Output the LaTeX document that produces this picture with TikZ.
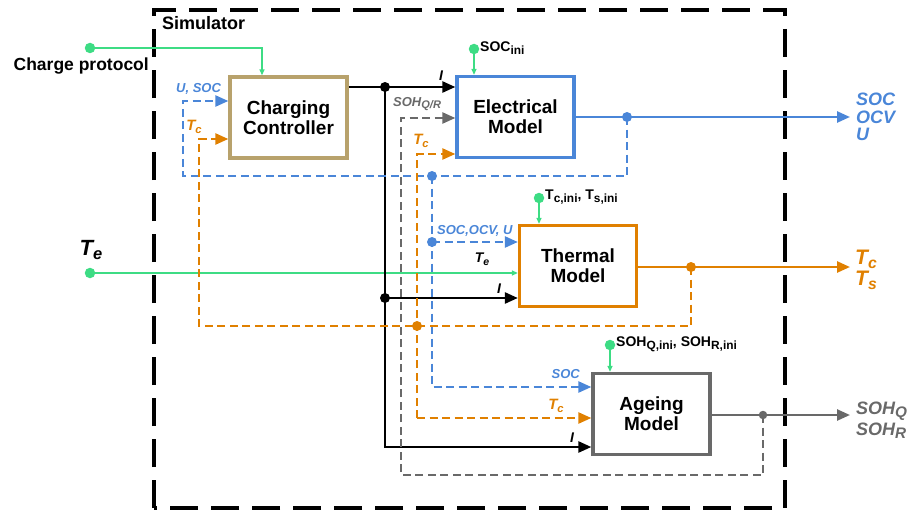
\documentclass[tikz,border=0pt]{standalone}
\usepackage{fontspec}
\setmainfont{Liberation Sans}
\usetikzlibrary{arrows.meta}
\definecolor{cblue}{RGB}{74,134,216}
\definecolor{corange}{RGB}{224,128,0}
\definecolor{cgray}{RGB}{105,105,105}
\definecolor{ctan}{RGB}{184,162,108}
\definecolor{cgreen}{RGB}{61,220,132}
\newcommand{\lowsub}[1]{\raisebox{-0.35ex}{\scalebox{0.85}{#1}}}
\newcommand{\smsub}[1]{\raisebox{-0.4ex}{\scalebox{0.75}{#1}}}
\begin{document}
\begin{tikzpicture}[x=1pt,y=-1pt,
  model/.style={draw,line width=3.3pt,fill=white,inner sep=0pt,minimum width=117pt,minimum height=81pt,align=center,font=\fontsize{19}{20}\selectfont\bfseries},
  sig/.style={line width=2.5pt},
  dsig/.style={line width=2.4pt,dash pattern=on 8pt off 4.5pt},
  tip/.style={-{Triangle[length=13pt,width=11pt]}},
  gtip/.style={cgreen,line width=1.3pt,-{Triangle[length=6pt,width=5pt]}},
  lab/.style={inner sep=0pt,font=\fontsize{13}{14}\selectfont\bfseries\itshape},
  ilab/.style={inner sep=0pt,font=\fontsize{14}{15}\selectfont\bfseries},
  outlab/.style={inner sep=0pt,anchor=west,align=left,font=\fontsize{18}{17.5}\selectfont\bfseries\itshape},
  dot/.style={circle,fill,inner sep=0pt,minimum size=10pt},
  gdot/.style={circle,fill=cgreen,inner sep=0pt,minimum size=10.5pt}
]
\useasboundingbox (0,0) rectangle (917,511);
% Simulator frame
\draw[line width=3.5pt,dash pattern=on 28pt off 13pt] (154,508) -- (154,10) -- (785,10) -- (785,508) -- cycle;
\node[anchor=west,inner sep=0pt,font=\fontsize{18}{18}\selectfont\bfseries] (simlab) at (162,23) {Simulator};

% Models
\node[model,draw=ctan] (cc) at (288.5,117.5) {Charging\\Controller};
\node[model,draw=cblue] (el) at (515.5,117) {Electrical\\Model};
\node[model,draw=corange] (th) at (578,266) {Thermal\\Model};
\node[model,draw=cgray] (ag) at (651.5,414) {Ageing\\Model};

% Green inputs
\node[gdot] (cp) at (90,48) {};
\node[anchor=east,inner sep=0pt,font=\fontsize{17.5}{18}\selectfont\bfseries] (cplab) at (149,66) {Charge protocol};
\coordinate (cpc) at (262,48);
\draw[gtip] (cp) -- (cpc) -- (cpc |- cc.north);

\node[gdot] (socini) at (474,49) {};
\node[ilab,anchor=west] (sociniL) at (480,48) {SOC\lowsub{ini}};
\draw[gtip] (socini) -- (socini |- el.north);

\node[gdot] (tini) at (539,198) {};
\node[ilab,anchor=west] (tiniL) at (545,197) {T\lowsub{c,ini}, T\lowsub{s,ini}};
\draw[gtip] (tini) -- (tini |- th.north);

\node[gdot] (sohini) at (610,345) {};
\node[ilab,anchor=west] (sohiniL) at (616,344) {SOH\lowsub{Q,ini}, SOH\lowsub{R,ini}};
\draw[gtip] (sohini) -- (sohini |- ag.north);

\node[gdot] (te) at (90,273) {};
\node[inner sep=0pt,font=\fontsize{22}{22}\selectfont\bfseries\itshape] (teL) at (91,250) {T\smsub{e}};
\draw[gtip] (te) -- (th.west |- te);
\node[lab,font=\fontsize{14}{14}\selectfont\bfseries\itshape] (teL2) at (482,259) {T\smsub{e}};

% Current I (black)
\coordinate (jI) at (385,87);
\coordinate (jT) at (385,298);
\coordinate (jA) at (385,447);
\draw[sig] (cc.east |- jI) -- (jI);
\draw[sig,tip] (jI) -- (el.west |- jI);
\draw[sig,tip] (jI) -- (jA) -- (ag.west |- jA);
\draw[sig,tip] (jT) -- (th.west |- jT);
\node[dot] (dI1) at (jI) {};
\node[dot] (dI2) at (jT) {};
\node[lab,font=\fontsize{14}{14}\selectfont\bfseries\itshape] (il1) at (441,76) {I};
\node[lab,font=\fontsize{14}{14}\selectfont\bfseries\itshape] (il2) at (499,289) {I};
\node[lab,font=\fontsize{14}{14}\selectfont\bfseries\itshape] (il3) at (572,438) {I};

% Electrical output (blue)
\coordinate (eo) at (850,117);
\coordinate (bD) at (627,117);
\coordinate (bR) at (627,176);
\coordinate (bL) at (183,176);
\coordinate (bU) at (183,101);
\coordinate (bJ) at (432,176);
\coordinate (bT) at (432,242);
\coordinate (bA) at (432,387);
\draw[cblue,sig,tip] (el.east |- eo) -- (eo);
\draw[cblue,dsig,tip] (bD) -- (bR) -- (bL) -- (bU) -- (cc.west |- bU);
\draw[cblue,dsig,tip] (bJ) -- (bA) -- (ag.west |- bA);
\draw[cblue,dsig,tip] (bT) -- (th.west |- bT);
\node[dot,cblue] (db1) at (bD) {};
\node[dot,cblue] (db2) at (bJ) {};
\node[dot,cblue] (db3) at (bT) {};
\node[outlab,text=cblue] (elout) at (856,117) {SOC\\OCV\\U};
\node[lab,anchor=west,text=cblue] (bl1) at (176,89) {U, SOC};
\node[lab,anchor=west,text=cblue] (bl2) at (437,231) {SOC,OCV, U};
\node[lab,anchor=east,text=cblue] (bl3) at (580,374) {SOC};

% Thermal output (orange)
\coordinate (to) at (850,267);
\coordinate (oD) at (691,267);
\coordinate (oR) at (691,326);
\coordinate (oL) at (199,326);
\coordinate (oU) at (199,139);
\coordinate (oJ) at (417,326);
\coordinate (oE) at (417,154);
\coordinate (oA) at (417,418);
\draw[corange,sig,tip] (th.east |- to) -- (to);
\draw[corange,dsig,tip] (oD) -- (oR) -- (oL) -- (oU) -- (cc.west |- oU);
\draw[corange,dsig,tip] (oA) -- (oE) -- (el.west |- oE);
\draw[corange,dsig,tip] (oA) -- (ag.west |- oA);
\node[dot,corange] (do1) at (oD) {};
\node[dot,corange] (do2) at (oJ) {};
\node[outlab,text=corange,font=\fontsize{21}{21}\selectfont\bfseries\itshape] (thout) at (855,270) {T\smsub{c}\\T\smsub{s}};
\node[lab,text=corange,font=\fontsize{15}{15}\selectfont\bfseries\itshape] (ol1) at (194,127) {T\smsub{c}};
\node[lab,text=corange,font=\fontsize{15}{15}\selectfont\bfseries\itshape] (ol2) at (421,141) {T\smsub{c}};
\node[lab,text=corange,font=\fontsize{15}{15}\selectfont\bfseries\itshape] (ol3) at (556,406) {T\smsub{c}};

% Ageing output (gray)
\coordinate (ao) at (850,415);
\coordinate (gD) at (763,415);
\coordinate (gR) at (763,475);
\coordinate (gL) at (401,475);
\coordinate (gU) at (401,118);
\draw[cgray,sig,tip] (ag.east |- ao) -- (ao);
\draw[cgray,dsig,tip] (gD) -- (gR) -- (gL) -- (gU) -- (el.west |- gU);
\node[dot,cgray,minimum size=8.5pt] (dg1) at (gD) {};
\node[outlab,text=cgray,font=\fontsize{18}{21}\selectfont\bfseries\itshape] (agout) at (856,420) {SOH\lowsub{Q}\\SOH\lowsub{R}};
\node[lab,anchor=west,text=cgray] (gl1) at (393,104) {SOH\lowsub{Q/R}};
\end{tikzpicture}
\end{document}
